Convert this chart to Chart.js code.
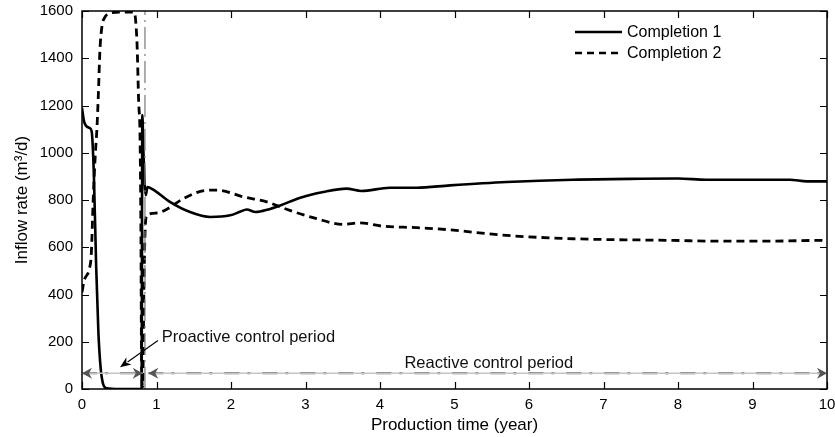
<!DOCTYPE html>
<html>
<head>
<meta charset="utf-8">
<title>Inflow rate vs production time</title>
<script src="https://cdn.jsdelivr.net/npm/chart.js@4.4.0/dist/chart.umd.min.js"></script>
<style>
  html, body { margin: 0; padding: 0; background: #fff; }
  canvas { display: block; }
</style>
</head>
<body>
<canvas id="chart" width="835" height="437"></canvas>
<script>
// Completion 1 (solid)
const c1Time = [0, 0.03, 0.1, 0.13, 0.16, 0.19, 0.22, 0.25, 0.28, 0.33, 0.5, 0.79, 0.80, 0.81, 0.825, 0.855, 0.88, 0.95, 1.18, 1.45, 1.72, 1.99, 2.12, 2.21, 2.33, 2.5, 2.66, 2.93, 3.24, 3.55, 3.75, 4.13, 4.49, 4.94, 5.7, 6.59, 7.5, 8.0, 8.38, 9.5, 9.73, 10];
const c1Rate = [1190, 1130, 1105, 1090, 900, 520, 240, 90, 25, 3, 0, 0, 0, 1160, 1000, 820, 855, 845, 792, 749, 728, 735, 750, 760, 749, 760, 777, 810, 834, 848, 838, 852, 852, 862, 876, 886, 890, 891, 886, 886, 879, 879];

// Completion 2 (dashed)
const c2Time = [0, 0.03, 0.1, 0.125, 0.15, 0.18, 0.2, 0.22, 0.24, 0.27, 0.3, 0.37, 0.5, 0.7, 0.72, 0.74, 0.76, 0.78, 0.79, 0.8, 0.815, 0.83, 0.845, 0.87, 1.0, 1.15, 1.36, 1.67, 1.81, 2.17, 2.48, 2.79, 3.15, 3.5, 3.73, 4.04, 4.49, 4.89, 5.7, 6.59, 7.94, 8.5, 9.28, 9.9, 10];
const c2Rate = [410, 460, 510, 573, 800, 1000, 1100, 1250, 1430, 1540, 1570, 1590, 1595, 1595, 1560, 1450, 1220, 1050, 700, 100, 10, 400, 650, 735, 745, 763, 806, 841, 842, 813, 792, 756, 721, 697, 703, 689, 683, 675, 650, 636, 629, 626, 626, 629, 628];

const seriesLabels = ['Completion 1', 'Completion 2'];
const xTicks = [0, 1, 2, 3, 4, 5, 6, 7, 8, 9, 10];
const yTicks = [0, 200, 400, 600, 800, 1000, 1200, 1400, 1600];

// control periods (year) and the level the period arrows are drawn at
const switchTime = 0.845;
const periodLevel = 67;
const proactiveSpan = [0, 0.815];
const reactiveSpan = [0.89, 10];

const FONT = "'Liberation Sans', Arial, Helvetica, sans-serif";

function toPoints(xs, ys) {
  return xs.map((x, i) => ({ x: x, y: ys[i] }));
}

// two spans in one dataset, split by a null point
const periodPoints = [
  { x: proactiveSpan[0], y: periodLevel },
  { x: proactiveSpan[1], y: periodLevel },
  { x: (proactiveSpan[1] + reactiveSpan[0]) / 2, y: null },
  { x: reactiveSpan[0], y: periodLevel },
  { x: reactiveSpan[1], y: periodLevel }
];

/**
 * Filled arrow head with a notched back, tip at (x, y)
 */
function arrowHead(ctx, x, y, angle, len, half, color) {
  ctx.save();
  ctx.translate(x, y);
  ctx.rotate(angle);
  ctx.beginPath();
  ctx.moveTo(0, 0);
  ctx.lineTo(-len, -half);
  ctx.lineTo(-len * 0.7, 0);
  ctx.lineTo(-len, half);
  ctx.closePath();
  ctx.fillStyle = color;
  ctx.fill();
  ctx.restore();
}

const framePlugin = {
  id: 'frameAndNotes',
  afterDraw(chart) {
    const ctx = chart.ctx;
    const area = chart.chartArea;
    const xs = chart.scales.x;
    const ys = chart.scales.y;

    ctx.save();

    // box and inward ticks on all four sides
    ctx.strokeStyle = '#000';
    ctx.lineWidth = 1.5;
    ctx.strokeRect(area.left, area.top, area.right - area.left, area.bottom - area.top);
    ctx.lineWidth = 1.2;
    ctx.beginPath();
    xTicks.forEach(v => {
      const px = Math.round(xs.getPixelForValue(v)) + 0.5;
      ctx.moveTo(px, area.bottom);
      ctx.lineTo(px, area.bottom - 7);
      ctx.moveTo(px, area.top);
      ctx.lineTo(px, area.top + 7);
    });
    yTicks.forEach(v => {
      const py = Math.round(ys.getPixelForValue(v)) + 0.5;
      ctx.moveTo(area.left, py);
      ctx.lineTo(area.left + 7, py);
      ctx.moveTo(area.right, py);
      ctx.lineTo(area.right - 7, py);
    });
    ctx.stroke();

    // arrow heads on the period lines
    const py = ys.getPixelForValue(periodLevel);
    const headColor = '#555';
    arrowHead(ctx, xs.getPixelForValue(proactiveSpan[0]), py, Math.PI, 10, 5.5, headColor);
    arrowHead(ctx, xs.getPixelForValue(proactiveSpan[1]), py, 0, 10, 5.5, headColor);
    arrowHead(ctx, xs.getPixelForValue(reactiveSpan[0]), py, Math.PI, 10, 5.5, headColor);
    arrowHead(ctx, xs.getPixelForValue(reactiveSpan[1]), py, 0, 10, 5.5, headColor);

    // period labels
    ctx.fillStyle = '#111';
    ctx.font = '16.5px ' + FONT;
    ctx.textBaseline = 'alphabetic';
    ctx.textAlign = 'left';
    ctx.fillText('Proactive control period', xs.getPixelForValue(1.07), ys.getPixelForValue(201));
    ctx.textAlign = 'center';
    ctx.fillText('Reactive control period', xs.getPixelForValue(5.46), ys.getPixelForValue(90));

    // pointer from the proactive label
    const ax0 = xs.getPixelForValue(1.02), ay0 = ys.getPixelForValue(205);
    const ax1 = xs.getPixelForValue(0.51), ay1 = ys.getPixelForValue(92);
    ctx.strokeStyle = '#000';
    ctx.lineWidth = 1.1;
    ctx.beginPath();
    ctx.moveTo(ax0, ay0);
    ctx.lineTo(ax1 + (ax0 - ax1) * 0.2, ay1 + (ay0 - ay1) * 0.2);
    ctx.stroke();
    arrowHead(ctx, ax1, ay1, Math.atan2(ay1 - ay0, ax1 - ax0), 11, 4.5, '#000');

    // legend
    const lx0 = 575, lx1 = 622;
    const rows = [32, 53];
    ctx.lineWidth = 2.6;
    ctx.strokeStyle = '#000';
    ctx.textAlign = 'left';
    ctx.textBaseline = 'middle';
    ctx.font = '16px ' + FONT;
    rows.forEach((ry, i) => {
      ctx.setLineDash(i === 0 ? [] : [7, 5]);
      ctx.beginPath();
      ctx.moveTo(lx0, ry);
      ctx.lineTo(lx1, ry);
      ctx.stroke();
      ctx.fillStyle = '#000';
      ctx.fillText(seriesLabels[i], lx1 + 5, ry + 1);
    });
    ctx.setLineDash([]);

    ctx.restore();
  }
};

new Chart(document.getElementById('chart'), {
  type: 'line',
  data: {
    datasets: [
      {
        label: 'period base',
        data: periodPoints,
        borderColor: '#c4c4c4',
        borderWidth: 1.5,
        pointRadius: 0,
        spanGaps: false
      },
      {
        label: 'period dashes',
        data: periodPoints,
        borderColor: '#666',
        borderWidth: 2.2,
        borderDash: [15, 8, 3, 12],
        pointRadius: 0,
        spanGaps: false
      },
      {
        label: 'switch',
        data: [{ x: switchTime, y: 0 }, { x: switchTime, y: 1600 }],
        borderColor: '#7a7a7a',
        borderWidth: 1.2,
        borderDash: [22, 5, 2, 5],
        pointRadius: 0
      },
      {
        label: seriesLabels[1],
        data: toPoints(c2Time, c2Rate),
        borderColor: '#000',
        borderWidth: 2.8,
        borderDash: [8, 5],
        pointRadius: 0,
        cubicInterpolationMode: 'monotone'
      },
      {
        label: seriesLabels[0],
        data: toPoints(c1Time, c1Rate),
        borderColor: '#000',
        borderWidth: 2.6,
        pointRadius: 0,
        cubicInterpolationMode: 'monotone'
      }
    ]
  },
  options: {
    responsive: false,
    animation: false,
    devicePixelRatio: 1,
    layout: { padding: { top: 11, right: 8, left: 0, bottom: 0 } },
    plugins: {
      legend: { display: false },
      tooltip: { enabled: false }
    },
    scales: {
      x: {
        type: 'linear',
        min: 0,
        max: 10,
        grid: { display: false, drawTicks: false },
        border: { display: false },
        afterBuildTicks: scale => { scale.ticks = xTicks.map(v => ({ value: v })); },
        afterFit: scale => {
          scale.height = 48;
          scale.paddingLeft = 0;
          scale.paddingRight = 0;
        },
        ticks: {
          color: '#000',
          padding: 7,
          maxRotation: 0,
          callback: v => String(v),
          font: { family: FONT, size: 15 }
        },
        title: {
          display: true,
          text: 'Production time (year)',
          color: '#000',
          padding: { top: 0, bottom: 1 },
          font: { family: FONT, size: 17 }
        }
      },
      y: {
        type: 'linear',
        min: 0,
        max: 1600,
        grid: { display: false, drawTicks: false },
        border: { display: false },
        afterBuildTicks: scale => { scale.ticks = yTicks.map(v => ({ value: v })); },
        afterFit: scale => {
          scale.width = 82;
          scale.paddingTop = 0;
          scale.paddingBottom = 0;
        },
        ticks: {
          color: '#000',
          padding: 9,
          callback: v => String(v),
          font: { family: FONT, size: 15 }
        },
        title: {
          display: true,
          text: 'Inflow rate (m³/d)',
          color: '#000',
          padding: { top: 12, bottom: 0 },
          font: { family: FONT, size: 17 }
        }
      }
    }
  },
  plugins: [framePlugin]
});
</script>
</body>
</html>
